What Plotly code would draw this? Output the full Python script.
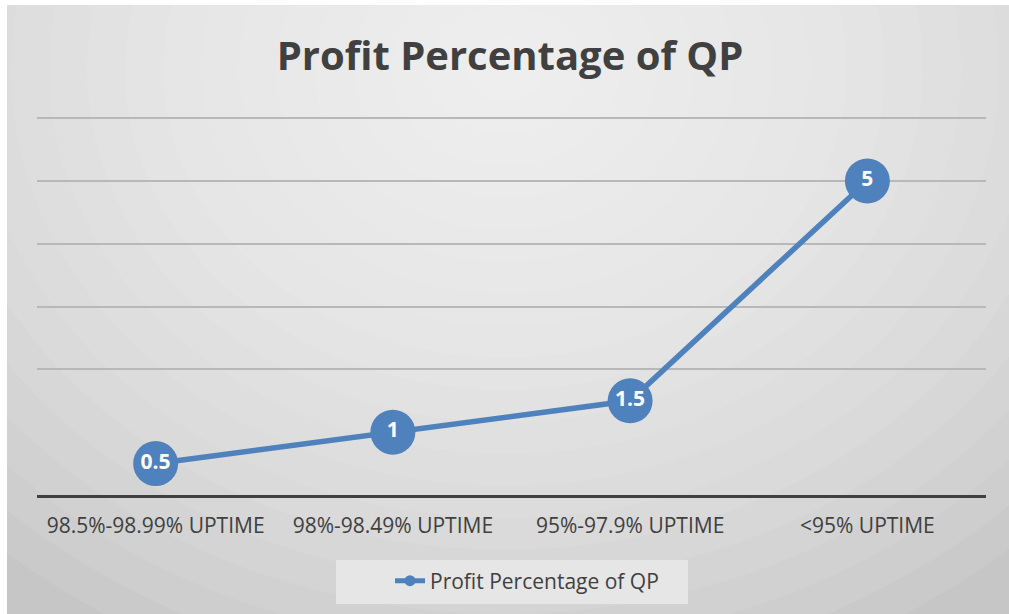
import plotly.graph_objects as go

categories = ["98.5%-98.99% UPTIME", "98%-98.49% UPTIME", "95%-97.9% UPTIME", "<95% UPTIME"]
values = [0.5, 1, 1.5, 5]
labels = ["0.5", "1", "1.5", "5"]
series_name = "Profit Percentage of QP"
title_text = "Profit Percentage of QP"

W, H = 1009, 614
L, R, T, B = 37, 23, 115, 119
PW, PH = W - L - R, H - T - B
blue = "#4F81BD"
font_family = "Open Sans, Noto Sans, DejaVu Sans, sans-serif"


def px_x(px):
    return (px - L) / PW


def px_y(py):
    return (H - B - py) / PH


fig = go.Figure()
fig.add_trace(go.Scatter(
    x=categories, y=values, mode="lines+markers+text",
    text=labels, textposition="middle center",
    textfont=dict(color="white", size=21, family=font_family, weight="bold"),
    line=dict(color=blue, width=5.5),
    marker=dict(color=blue, size=45),
    showlegend=False, cliponaxis=False, hoverinfo="skip",
))
fig.add_trace(go.Scatter(
    x=[None], y=[None], mode="lines+markers", name=series_name,
    line=dict(color=blue, width=5), marker=dict(color=blue, size=11),
))

shapes = []
# radial gradient background approximation
n = 20
cx, cy = 505, 70
for i in range(n):
    r = 1.0 - i / n
    rx = 760 * r
    ry = 640 * r
    shapes.append(dict(
        type="circle", xref="paper", yref="paper", layer="below",
        x0=px_x(cx - rx), x1=px_x(cx + rx),
        y0=px_y(cy + ry), y1=px_y(cy - ry),
        fillcolor="white", opacity=0.075, line=dict(width=0),
    ))
# white frame strips
shapes.append(dict(type="rect", xref="paper", yref="paper", layer="below",
                   x0=px_x(0), x1=px_x(7), y0=px_y(H), y1=px_y(0),
                   fillcolor="white", line=dict(width=0)))
shapes.append(dict(type="rect", xref="paper", yref="paper", layer="below",
                   x0=px_x(0), x1=px_x(W), y0=px_y(5), y1=px_y(0),
                   fillcolor="white", line=dict(width=0)))
# legend box
shapes.append(dict(type="rect", xref="paper", yref="paper", layer="below",
                   x0=px_x(336), x1=px_x(688), y0=px_y(604), y1=px_y(560),
                   fillcolor="rgba(232,232,232,0.9)", line=dict(width=0)))

fig.update_layout(
    width=W, height=H,
    margin=dict(l=L, r=R, t=T, b=B),
    paper_bgcolor="#c6c6c6",
    plot_bgcolor="rgba(0,0,0,0)",
    shapes=shapes,
    title=dict(text=title_text, x=510 / W, xanchor="center", y=1 - 56 / H, yanchor="middle",
               font=dict(family=font_family, size=40, color="#404040", weight="bold")),
    legend=dict(orientation="h", xref="container", yref="container",
                x=527 / W, xanchor="center", y=1 - 581 / H, yanchor="middle",
                bgcolor="rgba(0,0,0,0)", font=dict(family=font_family, size=21, color="#404040")),
    font=dict(family=font_family, color="#404040"),
)
fig.update_xaxes(
    type="category", range=[-0.5, 3.5], showgrid=False,
    showline=True, linecolor="#404040", linewidth=3,
    ticks="", tickfont=dict(family=font_family, size=21, color="#404040"),
    ticklabelstandoff=10,
)
fig.update_yaxes(
    range=[0, 6.05], tickvals=[2, 3, 4, 5, 6], showticklabels=False,
    showgrid=True, gridcolor="#b8b8b8", gridwidth=2, zeroline=False, showline=False,
)

fig.write_html("out.html", config={"displayModeBar": False},
               post_script="document.body.style.margin='0px';")
